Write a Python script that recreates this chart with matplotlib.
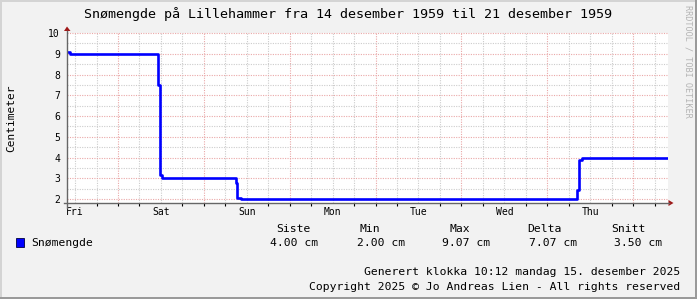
import matplotlib
matplotlib.use("Agg")
import matplotlib.pyplot as plt
from matplotlib.patches import Rectangle, Polygon
import numpy as np

W, H = 697, 299

# snow depth, step series (hours from left edge of graph, cm)
hours = [0, 0.84, 25.4, 26.0, 26.6, 47.15, 47.45, 48.5, 142.7, 143.2, 143.9, 168]
snow = [9.07, 9.0, 7.5, 3.15, 3.0, 2.75, 2.05, 2.0, 2.45, 3.9, 4.0, 4.0]

dayNames = ["Fri", "Sat", "Sun", "Mon", "Tue", "Wed", "Thu"]
yTicks = [2, 3, 4, 5, 6, 7, 8, 9, 10]

statNames = ["Siste", "Min", "Max", "Delta", "Snitt"]
statValues = ["4.00 cm", "2.00 cm", "9.07 cm", "7.07 cm", "3.50 cm"]

title = "Snømengde på Lillehammer fra 14 desember 1959 til 21 desember 1959"
seriesName = "Snømengde"

plt.rcParams["font.family"] = ["DejaVu Sans Mono"]


def px(x, y):
    return (x / W, 1 - y / H)


fig = plt.figure(figsize=(W / 100, H / 100), dpi=100, facecolor="#f2f2f2")

# frame shading like rrdtool
fig.add_artist(Rectangle(px(0, H), 2 / W, 1, transform=fig.transFigure, color="#d4d4d4", lw=0))
fig.add_artist(Rectangle(px(0, 2), 1, 2 / H, transform=fig.transFigure, color="#d4d4d4", lw=0))
fig.add_artist(Rectangle(px(W - 2, H), 2 / W, 1, transform=fig.transFigure, color="#9a9a9a", lw=0))
fig.add_artist(Rectangle(px(0, H), 1, 2 / H, transform=fig.transFigure, color="#9a9a9a", lw=0))

x0, y0 = px(67, 203)
ax = fig.add_axes([x0, y0, 601 / W, 170 / H])
ax.set_facecolor("white")
ax.set_xlim(0, 168)
ax.set_ylim(1.81, 10)
for s in ax.spines.values():
    s.set_visible(False)

# grid
midnight = 14.25
minorX = np.arange(2.25, 168, 6)
for h in minorX:
    major = abs(((h - midnight) % 24)) < 1e-6
    ax.axvline(h, color="#eaa8a8" if major else "#cccccc", lw=0.8,
               linestyle=(0, (1, 1.2)), zorder=1)
for v in np.arange(2, 10.01, 0.5):
    major = abs(v - round(v)) < 1e-6
    ax.axhline(v, color="#eaa8a8" if major else "#cccccc", lw=0.8,
               linestyle=(0, (1, 1.2)), zorder=1, clip_on=False)

ax.plot(hours, snow, drawstyle="steps-post", color="#0000ff", lw=1.9, zorder=3)

ax.set_xticks([midnight - 12 + 24 * k for k in range(7)])
ax.set_xticklabels(dayNames, fontsize=7)
ax.set_xticks(minorX, minor=True)
ax.set_yticks(yTicks)
ax.set_yticklabels([str(v) for v in yTicks], fontsize=7)
ax.tick_params(axis="x", which="major", length=0, pad=3)
ax.tick_params(axis="x", which="minor", length=2.2, width=0.8, direction="out")
for h, t in zip(minorX, ax.xaxis.get_minor_ticks()):
    major = abs(((h - midnight) % 24)) < 1e-6
    t.tick1line.set_color("#c84040" if major else "#999999")
ax.tick_params(axis="y", length=0, pad=5)

# axes with arrows
fig.add_artist(plt.Line2D([67 / W, 67 / W], [px(0, 208)[1], px(0, 31)[1]],
                          transform=fig.transFigure, color="#666666", lw=1))
fig.add_artist(plt.Line2D([64 / W, 669 / W], [px(0, 203)[1]] * 2,
                          transform=fig.transFigure, color="#666666", lw=1))
fig.add_artist(Polygon([px(64, 31), px(70.5, 31), px(67, 26.5)], closed=True,
                       transform=fig.transFigure, color="#a01818", lw=0))
fig.add_artist(Polygon([px(668.5, 200), px(668.5, 206), px(673.5, 203)], closed=True,
                       transform=fig.transFigure, color="#a01818", lw=0))

# texts
fig.text(*px(348.5, 14), title, ha="center", va="center", fontsize=9.6)
fig.text(*px(11, 118), "Centimeter", ha="center", va="center", rotation=90, fontsize=8)
fig.text(*px(688, 61), "RRDTOOL / TOBI OETIKER", ha="center", va="center",
         rotation=270, fontsize=6.1, color="#b4b4b4")

headX = [293, 370, 460, 544, 628]
valX = [294.5, 380.7, 466.5, 552.7, 638.4]
for name, x in zip(statNames, headX):
    fig.text(*px(x, 229), name, ha="center", va="center", fontsize=8.2)
for val, x in zip(statValues, valX):
    fig.text(*px(x, 243), val, ha="center", va="center", fontsize=8.2)

fig.add_artist(Rectangle(px(16, 247), 8 / W, 9 / H, transform=fig.transFigure,
                         facecolor="#0000ff", edgecolor="#000040", lw=0.6))
fig.text(*px(31, 243), seriesName, ha="left", va="center", fontsize=8.2)

fig.text(*px(680, 272), "Generert klokka 10:12 mandag 15. desember 2025",
         ha="right", va="center", fontsize=8.2)
fig.text(*px(680, 287), "Copyright 2025 © Jo Andreas Lien - All rights reserved",
         ha="right", va="center", fontsize=8.2)

fig.savefig("out.png", dpi=100, facecolor=fig.get_facecolor())
